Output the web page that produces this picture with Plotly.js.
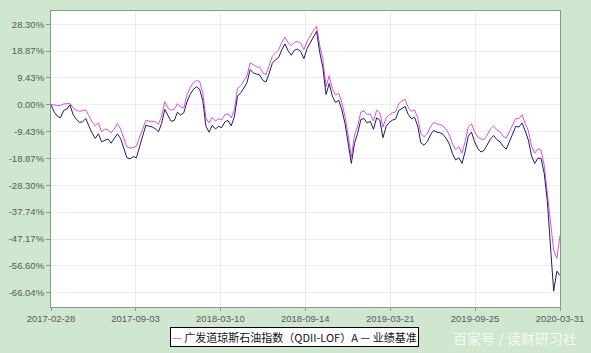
<!DOCTYPE html>
<html>
<head>
<meta charset="utf-8">
<script src="https://cdn.plot.ly/plotly-3.0.1.min.js"></script>
<style>
html,body{margin:0;padding:0;background:#cfe7cf;}
#chart{width:591px;height:353px;}
</style>
</head>
<body>
<div id="chart"></div>
<script>
// Weekly dates (Tuesdays) from 2017-02-28 to 2020-03-31
const dates = [
"2017-02-28","2017-03-07","2017-03-14","2017-03-21","2017-03-28","2017-04-04","2017-04-11","2017-04-18","2017-04-25","2017-05-02",
"2017-05-09","2017-05-16","2017-05-23","2017-05-30","2017-06-06","2017-06-13","2017-06-20","2017-06-27","2017-07-04","2017-07-11",
"2017-07-18","2017-07-25","2017-08-01","2017-08-08","2017-08-15","2017-08-22","2017-08-29","2017-09-05","2017-09-12","2017-09-19",
"2017-09-26","2017-10-03","2017-10-10","2017-10-17","2017-10-24","2017-10-31","2017-11-07","2017-11-14","2017-11-21","2017-11-28",
"2017-12-05","2017-12-12","2017-12-19","2017-12-26",
"2018-01-02","2018-01-09","2018-01-16","2018-01-23","2018-01-30","2018-02-06","2018-02-13","2018-02-20","2018-02-27","2018-03-06",
"2018-03-13","2018-03-20","2018-03-27","2018-04-03","2018-04-10","2018-04-17","2018-04-24","2018-05-01","2018-05-08","2018-05-15",
"2018-05-22","2018-05-29","2018-06-05","2018-06-12","2018-06-19","2018-06-26","2018-07-03","2018-07-10","2018-07-17","2018-07-24",
"2018-07-31","2018-08-07","2018-08-14","2018-08-21","2018-08-28","2018-09-04","2018-09-11","2018-09-18","2018-09-25","2018-10-02",
"2018-10-09","2018-10-16","2018-10-23","2018-10-30","2018-11-06","2018-11-13","2018-11-20","2018-11-27","2018-12-04","2018-12-11",
"2018-12-18","2018-12-25",
"2019-01-01","2019-01-08","2019-01-15","2019-01-22","2019-01-29","2019-02-05","2019-02-12","2019-02-19","2019-02-26","2019-03-05",
"2019-03-12","2019-03-19","2019-03-26","2019-04-02","2019-04-09","2019-04-16","2019-04-23","2019-04-30","2019-05-07","2019-05-14",
"2019-05-21","2019-05-28","2019-06-04","2019-06-11","2019-06-18","2019-06-25","2019-07-02","2019-07-09","2019-07-16","2019-07-23",
"2019-07-30","2019-08-06","2019-08-13","2019-08-20","2019-08-27","2019-09-03","2019-09-10","2019-09-17","2019-09-24","2019-10-01",
"2019-10-08","2019-10-15","2019-10-22","2019-10-29","2019-11-05","2019-11-12","2019-11-19","2019-11-26","2019-12-03","2019-12-10",
"2019-12-17","2019-12-24","2019-12-31",
"2020-01-07","2020-01-14","2020-01-21","2020-01-28","2020-02-04","2020-02-11","2020-02-18","2020-02-25","2020-03-03","2020-03-10",
"2020-03-17","2020-03-24","2020-03-31"
];

// 广发道琼斯石油指数(QDII-LOF)A cumulative return, %
const fundValues = [
0, 0, -0.3, -0.2, 0.3, 0.4, 0.5, -1.1, -1.9, -2.3,
-2.1, -1.8, -3.9, -6.0, -7.4, -6.4, -9.5, -8.5, -8.8, -9.9,
-8.5, -6.5, -8.5, -12.0, -14.8, -15.2, -15.0, -14.5, -11.3, -8.5,
-5.5, -5.7, -5.8, -6.0, -6.9, -3.9, 1.1, -1.1, -1.9, -1.6,
0.4, -0.7, -1.1, 3.5, 6.0, 7.8, 8.5, 8.3, 4.2, -4.6,
-6.4, -4.4, -5.7, -4.9, -5.3, -3.5, -3.2, -4.6, -1.8, 5.7,
6.7, 8.3, 10.2, 14.8, 14.1, 13.4, 13.2, 11.3, 10.6, 13.8,
17.0, 18.2, 19.3, 21.9, 23.8, 21.8, 20.8, 21.9, 22.3, 21.6,
19.4, 22.3, 24.4, 26.1, 27.6, 20.8, 15.9, 6.4, 10.2, 5.7,
3.5, 4.1, 0.7, -4.1, -10.6, -18.4, -10.6, -7.4, -2.6, -2.1,
-3.5, -3.2, -5.7, -1.9, -2.8, -7.8, -4.6, -3.5, -2.8, -2.5,
0.4, 1.4, 1.9, -0.9, -2.3, -1.8, -4.6, -10.2, -11.2, -10.2,
-7.8, -6.2, -6.7, -6.9, -7.4, -8.7, -10.6, -13.8, -15.7, -14.8,
-17.0, -12.9, -7.8, -6.7, -9.5, -11.3, -12.0, -12.2, -10.6, -8.5,
-7.4, -8.8, -9.5, -11.0, -11.7, -9.4, -6.7, -4.8, -4.9, -3.5,
-6.5, -9.2, -14.5, -17.0, -15.5, -15.9, -21.2, -31.4, -43.4, -51.2,
-54.0, -46.0
];

// 业绩基准 cumulative return, %
const benchValues = [
0, -2.5, -4.0, -4.6, -2.0, -1.5, 0.0, -3.5, -5.0, -6.2,
-6.0, -4.8, -7.5, -10.0, -11.8, -10.2, -13.0, -12.4, -12.0, -13.5,
-12.0, -10.2, -11.8, -15.6, -18.6, -19.0, -18.2, -18.6, -14.5, -11.0,
-7.2, -7.5, -7.8, -8.4, -9.5, -6.5, -1.6, -3.8, -5.8, -5.5,
-2.6, -3.6, -2.8, 1.0, 3.6, 5.4, 6.3, 5.5, 1.5, -7.5,
-9.6, -7.2, -8.5, -7.6, -8.0, -6.0, -5.5, -7.4, -4.2, 3.0,
4.2, 5.9, 7.8, 12.4, 11.2, 10.8, 10.5, 8.6, 8.0, 11.0,
14.6, 15.8, 16.6, 19.3, 21.4, 19.0, 17.4, 19.2, 19.6, 18.7,
16.2, 19.8, 21.9, 23.8, 25.8, 18.4, 13.0, 3.6, 7.5, 3.0,
0.8, 1.6, -1.8, -6.6, -13.2, -20.6, -13.6, -10.0, -5.2, -4.8,
-6.4, -5.8, -8.6, -4.6, -5.4, -11.6, -7.6, -6.2, -5.4, -5.0,
-2.0, -1.2, -0.6, -3.4, -4.9, -4.4, -7.5, -13.4, -14.2, -13.0,
-10.6, -9.0, -9.6, -9.8, -10.4, -11.8, -13.8, -17.2, -19.4, -18.6,
-20.6, -16.4, -11.0, -9.6, -13.0, -15.4, -16.6, -16.0, -14.2, -12.0,
-10.8, -12.2, -13.0, -14.6, -15.6, -12.8, -9.8, -7.6, -7.8, -6.4,
-9.2, -12.4, -18.0, -20.6, -18.8, -18.8, -24.0, -34.0, -50.0, -65.5,
-58.5, -60.0
];

const xTickDates = ["2017-02-28","2017-09-03","2018-03-10","2018-09-14","2019-03-21","2019-09-25","2020-03-31"];
const yTickVals = [28.30, 18.87, 9.43, 0.00, -9.43, -18.87, -28.30, -37.74, -47.17, -56.60, -66.04];
const yTickText = ["28.30%","18.87%","9.43%","0.00%","-9.43%","-18.87%","-28.30%","-37.74%","-47.17%","-56.60%","-66.04%"];
const seriesNames = ["广发道琼斯石油指数（QDII-LOF）A", "业绩基准"];
const seriesColors = ["#da4fda", "#1c1c6e"];
const watermark = "百家号 / 读财研习社";

const traces = [
  {x: dates, y: fundValues, type: "scatter", mode: "lines", name: seriesNames[0],
   line: {color: seriesColors[0], width: 1}},
  {x: dates, y: benchValues, type: "scatter", mode: "lines", name: seriesNames[1],
   line: {color: seriesColors[1], width: 1}}
];

const axisFont = {family: "Liberation Sans, Arial, sans-serif", size: 9.5, color: "#5a5a5a"};

// compact boxed legend, as in the original
const legendText =
  '<span style="color:' + seriesColors[0] + '">—</span> ' + seriesNames[0] +
  ' <span style="color:' + seriesColors[1] + '">—</span> ' + seriesNames[1];

const layout = {
  width: 591, height: 353,
  margin: {l: 51, r: 31, t: 11, b: 46, autoexpand: false},
  paper_bgcolor: "#cfe7cf",
  plot_bgcolor: "#ffffff",
  showlegend: false,
  xaxis: {
    type: "date",
    range: ["2017-02-28", "2020-03-31"],
    tickvals: xTickDates, ticktext: xTickDates,
    tickfont: axisFont,
    showgrid: true, gridcolor: "#ececec", gridwidth: 1,
    zeroline: false,
    showline: true, linecolor: "#8a9a8a", linewidth: 1, mirror: true,
    ticks: "outside", ticklen: 3, tickcolor: "#8a9a8a",
    automargin: false
  },
  yaxis: {
    range: [-71.07, 32.97],
    tickvals: yTickVals, ticktext: yTickText,
    tickfont: axisFont,
    showgrid: true, gridcolor: "#ececec", gridwidth: 1,
    zeroline: false,
    showline: true, linecolor: "#8a9a8a", linewidth: 1, mirror: true,
    ticks: "outside", ticklen: 4, tickcolor: "#8a9a8a",
    automargin: false
  },
  annotations: [
    {
      text: legendText, xref: "paper", yref: "paper",
      x: 0.4784, y: -0.101, xanchor: "center", yanchor: "middle",
      showarrow: false,
      bgcolor: "#ffffff", bordercolor: "#000000", borderwidth: 1, borderpad: 1,
      font: {family: "Noto Sans CJK SC, sans-serif", size: 11, color: "#111111"}
    },
    {
      text: watermark, xref: "paper", yref: "paper",
      x: 0.912, y: -0.105, xanchor: "center", yanchor: "middle",
      showarrow: false,
      font: {family: "Noto Sans CJK SC, sans-serif", size: 14, color: "rgba(255,255,255,0.8)"}
    }
  ]
};

Plotly.newPlot("chart", traces, layout, {displayModeBar: false, staticPlot: true});
</script>
</body>
</html>
